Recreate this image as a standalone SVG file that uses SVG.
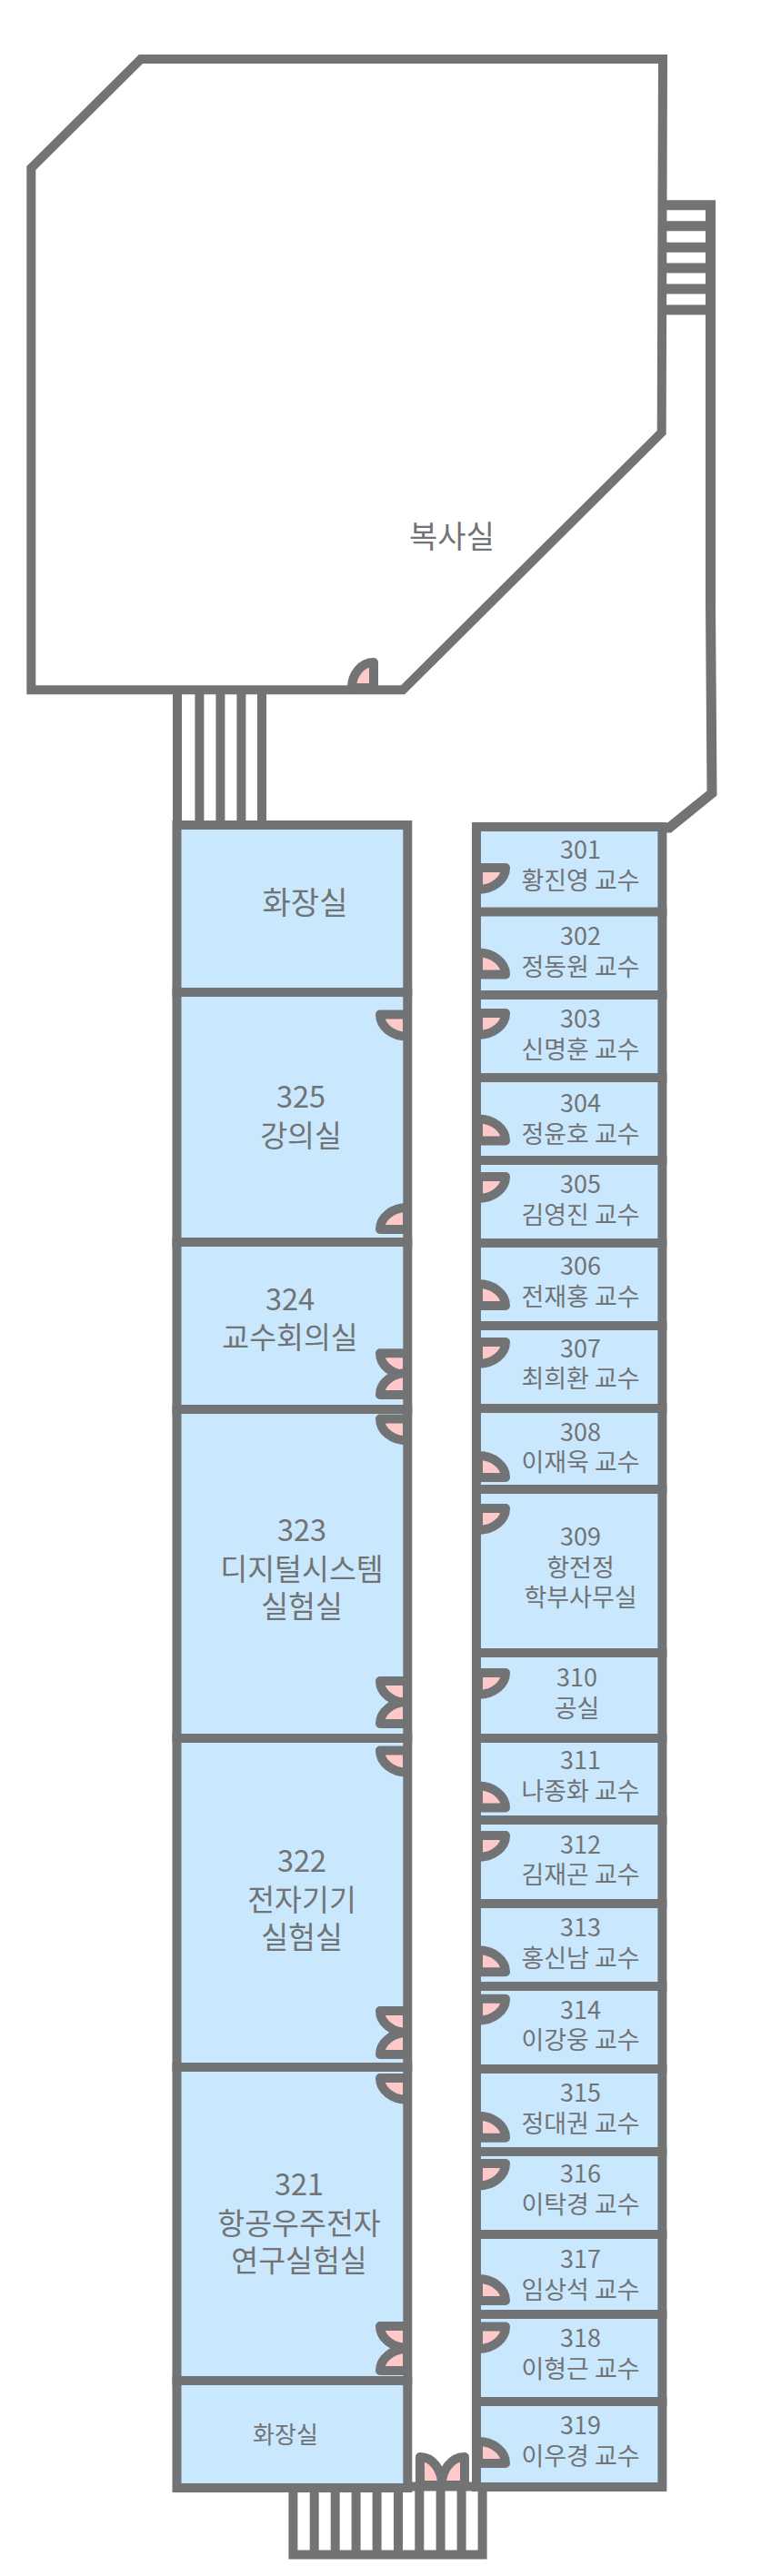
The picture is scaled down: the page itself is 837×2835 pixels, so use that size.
<svg xmlns="http://www.w3.org/2000/svg" width="837" height="2835" viewBox="0 0 837 2835">
<style>
.w{fill:none;stroke:#727375;stroke-width:10;stroke-linejoin:miter}
.st{stroke-width:11}
.r{fill:#c9e8fe;stroke:#727375;stroke-width:10}
.d{fill:#ffc9c9;stroke:#727375;stroke-width:10;stroke-linejoin:round}
text{fill:#727375;font-family:"Noto Sans CJK KR","Noto Sans",sans-serif;font-weight:400;text-anchor:middle}
.b{font-size:34px}.m{font-size:32.500px}.s{font-size:27px}.t{font-size:26px}
</style>
<rect width="837" height="2835" fill="#fff"/>
<g id="copy-room">
<path class="w" d="M34.300 185L155 65L729 65L727.700 476L443 759.300L34.300 759.300Z" style="fill:#fff"/>
<path class="d" d="M411 757V729A24 28 0 0 0 387 757Z"/>
<text class="b" x="497" y="603">복사실</text>
</g>
<g id="stairs-east">
<path class="w st" d="M729 225.800H781.500V664L783 873L736 911H728"/>
<path class="w st" d="M729 248.800H781M729 272.200H781M729 295H781M729 318H781M729 341H781"/>
</g>
<g id="stairs-north">
<path class="w" d="M195 759V908M219.400 759V908M242.400 759V908M265.400 759V908M288 759V908"/>
</g>
<g id="stairs-south">
<path class="w" d="M322.400 2738V2811.600H530.600V2738M345.700 2738V2811M368.700 2738V2811M391.600 2738V2811M414.600 2738V2811M438 2738V2811M461.300 2738V2811M484.600 2738V2811M507.600 2738V2811"/>
</g>
<g id="room-wc-north"><rect class="r" x="194.500" y="908" width="253.800" height="184"/><text class="b" x="335.500" y="1006">화장실</text></g>
<g id="room-325"><rect class="r" x="194.500" y="1092" width="253.800" height="275"/>
<path class="d" d="M448 1116.600H418A30 24 0 0 0 448 1140.600Z"/><path class="d" d="M448 1353H418A30 24 0 0 1 448 1329Z"/>
<text class="m"><tspan x="331" y="1219">325</tspan><tspan x="331" y="1261.700">강의실</tspan></text></g>
<g id="room-324"><rect class="r" x="194.500" y="1367" width="253.800" height="184"/>
<path class="d" d="M448 1489.300H418A30 24 0 0 0 448 1513.300Z"/><path class="d" d="M448 1535H418A30 24 0 0 1 448 1511Z"/>
<text class="m"><tspan x="319" y="1441.600">324</tspan><tspan x="319" y="1483.600">교수회의실</tspan></text></g>
<g id="room-323"><rect class="r" x="194.500" y="1551" width="253.800" height="362"/>
<path class="d" d="M448 1561.500H418A30 24 0 0 0 448 1585.500Z"/><path class="d" d="M448 1850H418A30 24 0 0 0 448 1874Z"/><path class="d" d="M448 1897H418A30 24 0 0 1 448 1873Z"/>
<text class="m"><tspan x="332" y="1696">323</tspan><tspan x="332" y="1738.600">디지털시스템</tspan><tspan x="332" y="1780">실험실</tspan></text></g>
<g id="room-322"><rect class="r" x="194.500" y="1913" width="253.800" height="362"/>
<path class="d" d="M448 1926.600H418A30 24 0 0 0 448 1950.600Z"/><path class="d" d="M448 2213H418A30 24 0 0 0 448 2237Z"/><path class="d" d="M448 2261H418A30 24 0 0 1 448 2237Z"/>
<text class="m"><tspan x="332" y="2060">322</tspan><tspan x="332" y="2103">전자기기</tspan><tspan x="332" y="2144">실험실</tspan></text></g>
<g id="room-321"><rect class="r" x="194.500" y="2275" width="253.800" height="345"/>
<path class="d" d="M448 2287H418A30 24 0 0 0 448 2311Z"/><path class="d" d="M448 2560H418A30 24 0 0 0 448 2584Z"/><path class="d" d="M448 2609H418A30 24 0 0 1 448 2585Z"/>
<text class="m"><tspan x="329" y="2416">321</tspan><tspan x="329" y="2459">항공우주전자</tspan><tspan x="329" y="2500">연구실험실</tspan></text></g>
<g id="room-wc-south"><rect class="r" x="194.500" y="2620" width="253.800" height="118"/><text class="t" x="314" y="2689">화장실</text></g>
<g id="room-301"><rect class="r" x="524" y="910" width="204.400" height="94"/><path class="d" d="M526 955H556A30 24 0 0 1 526 979Z"/><text class="s"><tspan x="638.500" y="945">301</tspan><tspan x="638.500" y="979">황진영 교수</tspan></text></g>
<g id="room-302"><rect class="r" x="524" y="1003.500" width="204.400" height="91.500"/><path class="d" d="M526 1072.500H556A30 24 0 0 0 526 1048.500Z"/><text class="s"><tspan x="638.500" y="1040">302</tspan><tspan x="638.500" y="1074">정동원 교수</tspan></text></g>
<g id="room-303"><rect class="r" x="524" y="1095" width="204.400" height="91"/><path class="d" d="M526 1115H556A30 24 0 0 1 526 1139Z"/><text class="s"><tspan x="638.500" y="1131">303</tspan><tspan x="638.500" y="1165">신명훈 교수</tspan></text></g>
<g id="room-304"><rect class="r" x="524" y="1186" width="204.400" height="91"/><path class="d" d="M526 1255.400H556A30 24 0 0 0 526 1231.400Z"/><text class="s"><tspan x="638.500" y="1224">304</tspan><tspan x="638.500" y="1258">정윤호 교수</tspan></text></g>
<g id="room-305"><rect class="r" x="524" y="1277" width="204.400" height="91"/><path class="d" d="M526 1295H556A30 24 0 0 1 526 1319Z"/><text class="s"><tspan x="638.500" y="1313">305</tspan><tspan x="638.500" y="1347">김영진 교수</tspan></text></g>
<g id="room-306"><rect class="r" x="524" y="1368" width="204.400" height="91"/><path class="d" d="M526 1437H556A30 24 0 0 0 526 1413Z"/><text class="s"><tspan x="638.500" y="1403">306</tspan><tspan x="638.500" y="1437">전재홍 교수</tspan></text></g>
<g id="room-307"><rect class="r" x="524" y="1459" width="204.400" height="91"/><path class="d" d="M526 1477H556A30 24 0 0 1 526 1501Z"/><text class="s"><tspan x="638.500" y="1494">307</tspan><tspan x="638.500" y="1527">최희환 교수</tspan></text></g>
<g id="room-308"><rect class="r" x="524" y="1550" width="204.400" height="89"/><path class="d" d="M526 1626H556A30 24 0 0 0 526 1602Z"/><text class="s"><tspan x="638.500" y="1586">308</tspan><tspan x="638.500" y="1619">이재욱 교수</tspan></text></g>
<g id="room-309"><rect class="r" x="524" y="1639" width="204.400" height="180"/><path class="d" d="M526 1660H556A30 24 0 0 1 526 1684Z"/><text class="s"><tspan x="638.500" y="1700.600">309</tspan><tspan x="638.500" y="1735">항전정</tspan><tspan x="638.500" y="1767.600">학부사무실</tspan></text></g>
<g id="room-310"><rect class="r" x="524" y="1819" width="204.400" height="94"/><path class="d" d="M526 1841H556A30 24 0 0 1 526 1865Z"/><text class="s"><tspan x="634.600" y="1855.500">310</tspan><tspan x="634.600" y="1889.500">공실</tspan></text></g>
<g id="room-311"><rect class="r" x="524" y="1913" width="204.400" height="90"/><path class="d" d="M526 1989.500H556A30 24 0 0 0 526 1965.500Z"/><text class="s"><tspan x="638.500" y="1947">311</tspan><tspan x="638.500" y="1980.500">나종화 교수</tspan></text></g>
<g id="room-312"><rect class="r" x="524" y="2003" width="204.400" height="92"/><path class="d" d="M526 2020H556A30 24 0 0 1 526 2044Z"/><text class="s"><tspan x="638.500" y="2040">312</tspan><tspan x="638.500" y="2073">김재곤 교수</tspan></text></g>
<g id="room-313"><rect class="r" x="524" y="2095" width="204.400" height="91"/><path class="d" d="M526 2170.300H556A30 24 0 0 0 526 2146.300Z"/><text class="s"><tspan x="638.500" y="2130.500">313</tspan><tspan x="638.500" y="2164.500">홍신남 교수</tspan></text></g>
<g id="room-314"><rect class="r" x="524" y="2186" width="204.400" height="91"/><path class="d" d="M526 2199.700H556A30 24 0 0 1 526 2223.700Z"/><text class="s"><tspan x="638.500" y="2221.600">314</tspan><tspan x="638.500" y="2255">이강웅 교수</tspan></text></g>
<g id="room-315"><rect class="r" x="524" y="2277" width="204.400" height="91"/><path class="d" d="M526 2352.700H556A30 24 0 0 0 526 2328.700Z"/><text class="s"><tspan x="638.500" y="2313.400">315</tspan><tspan x="638.500" y="2347.400">정대권 교수</tspan></text></g>
<g id="room-316"><rect class="r" x="524" y="2368" width="204.400" height="91"/><path class="d" d="M526 2381H556A30 24.500 0 0 1 526 2405.500Z"/><text class="s"><tspan x="638.500" y="2401.700">316</tspan><tspan x="638.500" y="2435.700">이탁경 교수</tspan></text></g>
<g id="room-317"><rect class="r" x="524" y="2459" width="204.400" height="88"/><path class="d" d="M526 2532H556A30 24 0 0 0 526 2508Z"/><text class="s"><tspan x="638.500" y="2495.700">317</tspan><tspan x="638.500" y="2530">임상석 교수</tspan></text></g>
<g id="room-318"><rect class="r" x="524" y="2547" width="204.400" height="96"/><path class="d" d="M526 2560.500H556A30 24.500 0 0 1 526 2585Z"/><text class="s"><tspan x="638.500" y="2582.700">318</tspan><tspan x="638.500" y="2617">이형근 교수</tspan></text></g>
<g id="room-319"><rect class="r" x="524" y="2643" width="204.400" height="94"/><path class="d" d="M526 2711H556A30 24 0 0 0 526 2687Z"/><text class="s"><tspan x="638.500" y="2678.700">319</tspan><tspan x="638.500" y="2712.800">이우경 교수</tspan></text></g>
<g id="doors-south">
<path class="d" d="M462 2735V2704A24 30 0 0 1 486 2735Z"/><path class="d" d="M511 2735V2704A25 30 0 0 0 486 2735Z"/>
<path class="w" d="M448 2736.500H524"/>
</g>
</svg>
